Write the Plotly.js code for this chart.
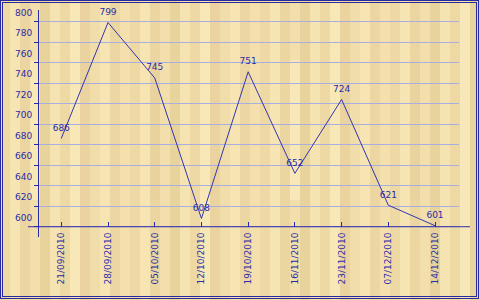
<!DOCTYPE html>
<html>
<head>
<meta charset="utf-8">
<script src="https://cdn.plot.ly/plotly-3.0.1.min.js"></script>
<style>
  html, body { margin: 0; padding: 0; }
  #wrap {
    position: relative; width: 480px; height: 300px; overflow: hidden;
    background-color: #f0dcaa;
    background-image:
      linear-gradient(90deg,
        rgba(0,0,0,0) 0 30px, rgba(250,234,186,0.8) 30px 40px, rgba(0,0,0,0) 40px 150px,
        rgba(232,210,156,0.7) 150px 160px, rgba(0,0,0,0) 160px 260px),
      linear-gradient(90deg,
        #eed9a5 0 10px, #f6e5b2 10px 20px, #ebd5a0 20px 30px, #f2dfac 30px 40px,
        #e9d39d 40px 50px, #f5e3b1 50px 60px, #eed9a5 60px 70px, #f8e8b7 70px 80px,
        #ead39e 80px 90px, #f1dda9 90px 100px, #f6e5b3 100px 110px, #ecd6a1 110px 120px,
        #f3e0ad 120px 130px);
    background-size: 260px 140px, 130px 100%;
    background-position: 0 60px, 0 0;
    background-repeat: repeat-x, repeat;
  }
  #plot { position: absolute; left: 0; top: 0; width: 480px; height: 300px; }
  #frame {
    position: absolute; left: 0; top: 0; width: 479px; height: 299px;
    box-sizing: border-box; border: 3px double #2a2aa0; pointer-events: none;
  }
</style>
</head>
<body>
<div id="wrap">
  <div id="plot"></div>
  <div id="frame"></div>
</div>
<script>
const categories = ["21/09/2010","28/09/2010","05/10/2010","12/10/2010","19/10/2010","16/11/2010","23/11/2010","07/12/2010","14/12/2010"];
const values = [686, 799, 745, 608, 751, 652, 724, 621, 601];
const yTickVals = [600, 620, 640, 660, 680, 700, 720, 740, 760, 780, 800];

const blue = '#2a2aa8';
const lineBlue = '#3434b0';
const gridColor = '#a9aee0';
const fontFam = 'DejaVu Sans, Verdana, sans-serif';

const yRange = [590, 811.2];
const xRange = [-0.477, 8.513];
const axisY = 600;
const axisFrac = (axisY - yRange[0]) / (yRange[1] - yRange[0]);

const trace = {
  x: categories,
  y: values,
  type: 'scatter',
  mode: 'lines+markers+text',
  line: { color: lineBlue, width: 1 },
  marker: { size: 7, color: 'rgba(0,0,0,0)' },
  text: values.map(String),
  textposition: 'top center',
  textfont: { family: fontFam, size: 9, color: blue },
  hoverinfo: 'none',
  cliponaxis: false,
  showlegend: false
};

const yBase = {
  range: yRange, tickvals: yTickVals, showgrid: false, zeroline: false,
  tickcolor: blue, ticklen: 4, tickwidth: 1, fixedrange: true
};

const layout = {
  width: 480, height: 300,
  margin: { l: 39, r: 20.7, t: 10, b: 63 },
  paper_bgcolor: 'rgba(0,0,0,0)',
  plot_bgcolor: 'rgba(0,0,0,0)',
  showlegend: false,
  font: { family: fontFam, size: 9, color: blue },
  xaxis: {
    type: 'category', range: xRange, anchor: 'free', position: axisFrac,
    showline: false, showgrid: false, zeroline: false,
    ticks: 'inside', ticklen: 5, tickcolor: blue, tickwidth: 1,
    tickangle: -90, ticklabelstandoff: 3,
    tickfont: { family: fontFam, size: 9, color: blue }, fixedrange: true
  },
  xaxis2: {
    overlaying: 'x', type: 'linear', range: xRange, anchor: 'free', position: axisFrac,
    tickmode: 'linear', tick0: 0, dtick: 1,
    showline: false, showgrid: false, zeroline: false, showticklabels: false,
    ticks: 'outside', ticklen: 3, tickcolor: blue, tickwidth: 1, fixedrange: true
  },
  yaxis: Object.assign({}, yBase, {
    side: 'left', showline: true, linecolor: blue, linewidth: 1,
    showgrid: true, gridcolor: gridColor, gridwidth: 1,
    ticks: 'outside', ticklabelshift: -9, ticklabelstandoff: 0,
    tickfont: { family: fontFam, size: 9, color: blue }
  }),
  yaxis2: Object.assign({}, yBase, {
    overlaying: 'y', side: 'left', showline: false, ticks: 'inside', showticklabels: false
  }),
  yaxis3: Object.assign({}, yBase, {
    overlaying: 'y', side: 'right', showline: true, linecolor: blue, linewidth: 1,
    ticks: 'outside', showticklabels: false
  }),
  yaxis4: Object.assign({}, yBase, {
    overlaying: 'y', side: 'right', showline: false, ticks: 'inside', showticklabels: false
  }),
  shapes: [{
    type: 'line', xref: 'paper', yref: 'paper',
    x0: -11 / 420.3, x1: 1 + 11 / 420.3, y0: axisFrac, y1: axisFrac,
    line: { color: blue, width: 1 }
  }]
};

Plotly.newPlot('plot', [trace], layout, { displayModeBar: false, staticPlot: true });
</script>
</body>
</html>
